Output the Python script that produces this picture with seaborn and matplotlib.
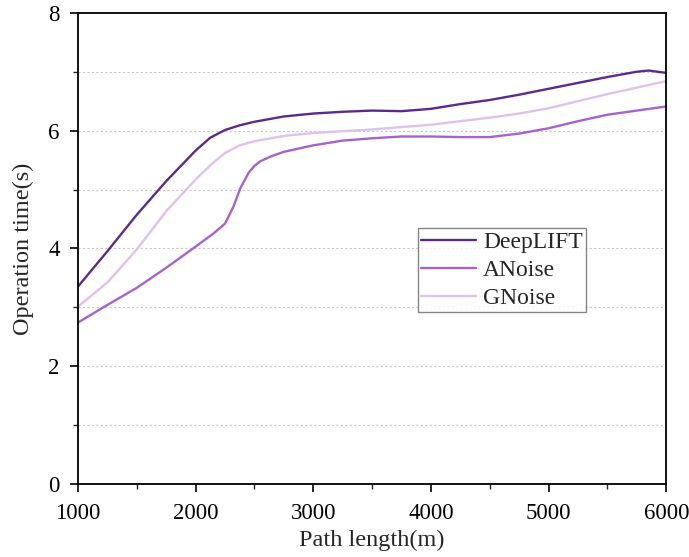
import numpy as np
import pandas as pd
import seaborn as sns
import matplotlib
matplotlib.use("Agg")
import matplotlib.pyplot as plt
from matplotlib.ticker import MultipleLocator

# ---- data ----
deep_x = [1000, 1250, 1500, 1750, 2000, 2125, 2250, 2375, 2500, 2750, 3000, 3250, 3500, 3750,
          4000, 4250, 4500, 4750, 5000, 5250, 5500, 5750, 5850, 6000]
deep_y = [3.35, 3.95, 4.57, 5.14, 5.66, 5.88, 6.01, 6.09, 6.15, 6.24, 6.29, 6.32, 6.34, 6.33,
          6.37, 6.45, 6.52, 6.61, 6.71, 6.81, 6.91, 7.00, 7.02, 6.98]

anoise_x = [1000, 1250, 1500, 1750, 2000, 2150, 2250, 2320, 2380, 2450, 2500, 2550, 2650, 2750,
            3000, 3250, 3500, 3750, 4000, 4250, 4500, 4750, 5000, 5250, 5500, 5750, 6000]
anoise_y = [2.74, 3.04, 3.33, 3.67, 4.03, 4.25, 4.42, 4.70, 5.02, 5.28, 5.40, 5.48, 5.57, 5.64,
            5.75, 5.83, 5.87, 5.90, 5.90, 5.89, 5.89, 5.95, 6.04, 6.16, 6.27, 6.34, 6.41]

gnoise_x = [1000, 1250, 1500, 1750, 2000, 2125, 2250, 2375, 2500, 2750, 3000, 3250, 3500, 3750,
            4000, 4250, 4500, 4750, 5000, 5250, 5500, 5750, 6000]
gnoise_y = [3.01, 3.42, 3.98, 4.63, 5.17, 5.41, 5.62, 5.75, 5.82, 5.91, 5.96, 5.99, 6.02, 6.06,
            6.10, 6.16, 6.22, 6.29, 6.38, 6.50, 6.62, 6.73, 6.84]

series_names = ["DeepLIFT", "ANoise", "GNoise"]
x_ticks = [1000, 2000, 3000, 4000, 5000, 6000]
y_ticks = [0, 2, 4, 6, 8]

df = pd.concat([
    pd.DataFrame({"x": deep_x, "y": deep_y, "method": series_names[0]}),
    pd.DataFrame({"x": anoise_x, "y": anoise_y, "method": series_names[1]}),
    pd.DataFrame({"x": gnoise_x, "y": gnoise_y, "method": series_names[2]}),
])

sns.set_style("white")
plt.rcParams["font.family"] = ["Liberation Serif", "DejaVu Serif"]

palette = {"DeepLIFT": "#5a2b8c", "ANoise": "#a563cf", "GNoise": "#dcc2ec"}

fig = plt.figure(figsize=(6.89, 5.57), dpi=100)
ax = fig.add_axes([0.113, 0.131, 0.854, 0.846])

sns.lineplot(data=df, x="x", y="y", hue="method", palette=palette,
             hue_order=series_names, linewidth=1.7, ax=ax, sort=False,
             estimator=None)
for ln in ax.get_lines():
    ln.set_solid_joinstyle("round")
    ln.set_solid_capstyle("round")

ax.set_xlim(1000, 6000)
ax.set_ylim(0, 8)
ax.set_xticks(x_ticks)
ax.set_yticks(y_ticks)
ax.xaxis.set_minor_locator(MultipleLocator(500))
ax.yaxis.set_minor_locator(MultipleLocator(1))
ax.tick_params(which="major", direction="out", length=6, width=1.2,
               labelsize=16.5, colors="black", left=True, bottom=True)
ax.tick_params(axis="x", which="major", pad=8)
ax.tick_params(axis="y", which="major", pad=7)
ax.tick_params(which="minor", direction="out", length=3.5, width=1.0,
               left=True, bottom=True)
ax.grid(False)
for yv in range(1, 8):
    ax.axhline(yv, color="#c8c8c8", linestyle=(0, (2, 2)), linewidth=0.8, zorder=0)

for s in ax.spines.values():
    s.set_visible(True)
    s.set_color("black")
    s.set_linewidth(1.3)

ax.set_xlabel("Path length(m)", fontsize=17.5, labelpad=4)
ax.set_ylabel("Operation time(s)", fontsize=17.5, labelpad=10)

leg = ax.legend(loc="upper left", bbox_to_anchor=(0.578, 0.5435), fontsize=17,
                frameon=True, fancybox=False, edgecolor="#666666",
                handlelength=2.3, handletextpad=0.3, borderpad=0.15,
                labelspacing=0.27, borderaxespad=0)
leg.get_frame().set_linewidth(1.0)
leg.set_title(None)

fig.savefig("out.png", dpi=100)
